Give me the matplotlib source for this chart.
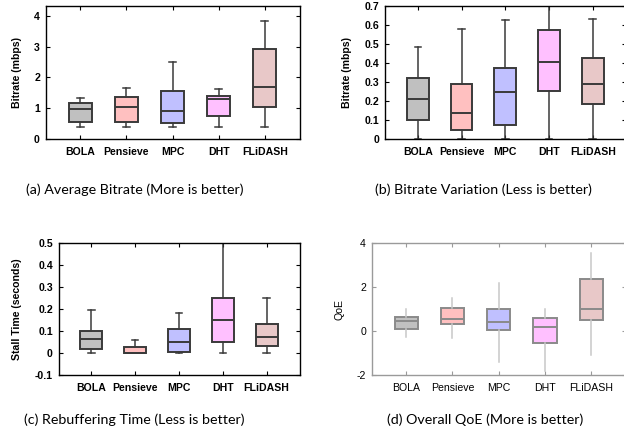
import numpy as np
import matplotlib
matplotlib.use("Agg")
import matplotlib.pyplot as plt

# categories and colours
schemes = ["BOLA", "Pensieve", "MPC", "DHT", "FLiDASH"]
box_colors = ["#c0c0c0", "#ffc0c0", "#c0c0ff", "#ffc0ff", "#e8c8c8"]

# box stats: whisker low, q1, median, q3, whisker high
bitrate_lo = [0.40, 0.40, 0.40, 0.40, 0.40]
bitrate_q1 = [0.56, 0.56, 0.51, 0.74, 1.05]
bitrate_med = [0.97, 1.05, 0.90, 1.31, 1.70]
bitrate_q3 = [1.17, 1.38, 1.56, 1.41, 2.92]
bitrate_hi = [1.34, 1.67, 2.51, 1.62, 3.84]

var_lo = [0.0, 0.0, 0.0, 0.0, 0.0]
var_q1 = [0.097, 0.044, 0.072, 0.252, 0.181]
var_med = [0.209, 0.136, 0.246, 0.403, 0.287]
var_q3 = [0.318, 0.290, 0.371, 0.572, 0.426]
var_hi = [0.484, 0.577, 0.626, 0.70, 0.630]

stall_lo = [0.0, 0.0, 0.0, 0.0, 0.0]
stall_q1 = [0.017, 0.0, 0.006, 0.049, 0.032]
stall_med = [0.066, 0.0, 0.049, 0.149, 0.073]
stall_q3 = [0.102, 0.026, 0.110, 0.250, 0.131]
stall_hi = [0.198, 0.058, 0.183, 0.50, 0.251]

qoe_lo = [-0.29, -0.31, -1.39, -1.80, -1.09]
qoe_q1 = [0.11, 0.33, 0.05, -0.56, 0.48]
qoe_med = [0.44, 0.53, 0.39, 0.20, 0.99]
qoe_q3 = [0.62, 1.03, 1.01, 0.61, 2.38]
qoe_hi = [0.99, 1.49, 2.17, 0.99, 3.56]

captions = ["(a) Average Bitrate (More is better)",
            "(b) Bitrate Variation (Less is better)",
            "(c) Rebuffering Time (Less is better)",
            "(d) Overall QoE (More is better)"]

W, H = 624, 442
fig = plt.figure(figsize=(W / 100, H / 100), dpi=100)


def px_axes(left, right, top, bottom):
    return fig.add_axes([left / W, 1 - bottom / H, (right - left) / W, (bottom - top) / H])


def make_stats(lo, q1, med, q3, hi):
    return [dict(whislo=a, q1=b, med=c, q3=d, whishi=e, fliers=[])
            for a, b, c, d, e in zip(lo, q1, med, q3, hi)]


def draw_panel(ax, stats, ylim, yticks, ylabels, ylabel, light=False):
    pos = np.arange(1, len(schemes) + 1)
    edge = "#8a8a8a" if light else "#3a3a3a"
    whisk = "#c8c8c8" if light else "#3a3a3a"
    bp = ax.bxp(stats, positions=pos, widths=0.5, patch_artist=True,
                showcaps=not light, capwidths=0.15, showfliers=False,
                boxprops=dict(edgecolor=edge, linewidth=1.4),
                medianprops=dict(color=edge, linewidth=1.4),
                whiskerprops=dict(color=whisk, linewidth=1.1),
                capprops=dict(color=whisk, linewidth=1.1))
    for patch, c in zip(bp["boxes"], box_colors):
        patch.set_facecolor(c)
    ax.set_xlim(0.25, 5.75)
    ax.set_ylim(*ylim)
    ax.set_xticks(pos)
    weight = "normal" if light else "bold"
    ax.set_xticklabels(schemes, fontsize=7.6, fontweight=weight, family="Liberation Sans")
    ax.set_yticks(yticks)
    ax.set_yticklabels(ylabels, fontsize=7.6, fontweight=weight, family="Liberation Sans")
    ax.set_ylabel(ylabel, fontsize=7.6, fontweight=weight, family="Liberation Sans", labelpad=9)
    spine_c = "#9a9a9a" if light else "black"
    for s in ax.spines.values():
        s.set_color(spine_c)
        s.set_linewidth(1.0)
    ax.tick_params(direction="in", top=True, right=True, length=3, width=0.8,
                   color=spine_c, labelcolor="black")
    ax.tick_params(axis="x", pad=6)
    ax.tick_params(axis="y", pad=4)


ax_a = px_axes(45.5, 299.5, 6, 139)
draw_panel(ax_a, make_stats(bitrate_lo, bitrate_q1, bitrate_med, bitrate_q3, bitrate_hi),
           (0, 4.32), [0, 1, 2, 3, 4], ["0", "1", "2", "3", "4"], "Bitrate (mbps)")

ax_b = px_axes(385, 625.5, 6, 138.7)
draw_panel(ax_b, make_stats(var_lo, var_q1, var_med, var_q3, var_hi),
           (0, 0.7), np.arange(0, 0.71, 0.1),
           ["0", "0.1", "0.2", "0.3", "0.4", "0.5", "0.6", "0.7"], "Bitrate (mbps)")

ax_c = px_axes(58.5, 299.5, 243.3, 375)
draw_panel(ax_c, make_stats(stall_lo, stall_q1, stall_med, stall_q3, stall_hi),
           (-0.1, 0.5), np.arange(-0.1, 0.51, 0.1),
           ["-0.1", "0", "0.1", "0.2", "0.3", "0.4", "0.5"], "Stall Time (seconds)")

ax_d = px_axes(371.5, 626, 243, 375)
draw_panel(ax_d, make_stats(qoe_lo, qoe_q1, qoe_med, qoe_q3, qoe_hi),
           (-2, 4), [-2, 0, 2, 4], ["-2", "0", "2", "4"], "QoE", light=True)

cap_pos = [(135, 190), (483, 190), (134, 420), (485, 420)]
for (x, y), txt in zip(cap_pos, captions):
    fig.text(x / W, 1 - y / H, txt, ha="center", va="center", fontsize=10.3, family="Lato")

fig.savefig("out.png", dpi=100)
